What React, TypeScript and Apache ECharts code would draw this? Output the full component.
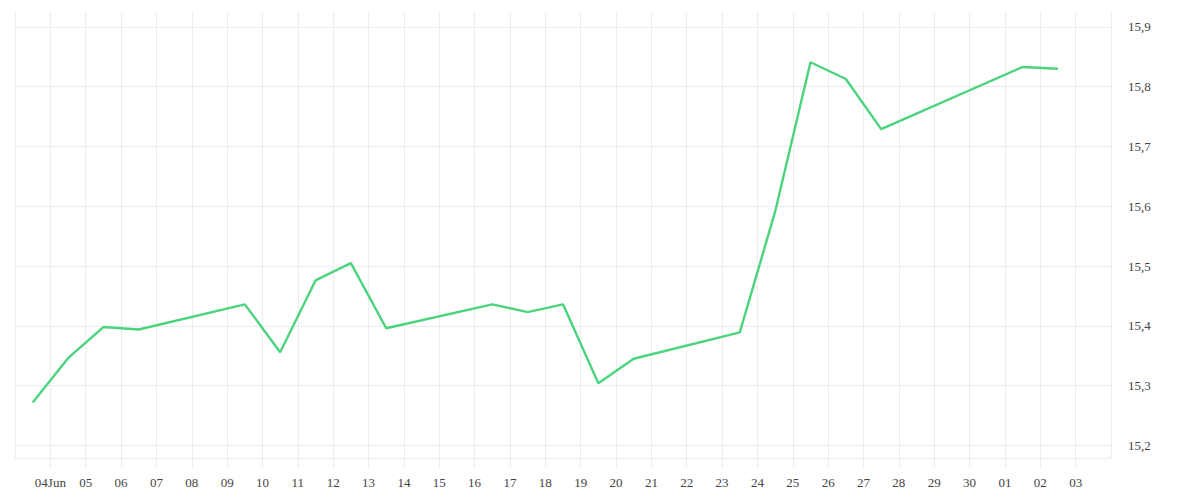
import React, { useEffect, useRef } from "react";
import * as echarts from "echarts";

// Trading dates (local calendar days)
const dates = [
  "2024-06-03", "2024-06-04", "2024-06-05", "2024-06-06",
  "2024-06-09", "2024-06-10", "2024-06-11", "2024-06-12", "2024-06-13",
  "2024-06-16", "2024-06-17", "2024-06-18", "2024-06-19", "2024-06-20",
  "2024-06-23", "2024-06-24", "2024-06-25", "2024-06-26", "2024-06-27",
  "2024-07-01", "2024-07-02",
];

const values = [
  15.272, 15.346, 15.398, 15.394,
  15.436, 15.356, 15.476, 15.505, 15.396,
  15.436, 15.423, 15.436, 15.304, 15.345,
  15.389, 15.591, 15.841, 15.813, 15.729,
  15.833, 15.83,
];

const axisStart = "2024-06-03";
const axisDays = 31;

// x tick labels for day offsets 1..30
const xTickLabels = [
  "04Jun", "05", "06", "07", "08", "09", "10", "11", "12", "13",
  "14", "15", "16", "17", "18", "19", "20", "21", "22", "23",
  "24", "25", "26", "27", "28", "29", "30", "01", "02", "03",
];

const yTicks = [15.2, 15.3, 15.4, 15.5, 15.6, 15.7, 15.8, 15.9];

const DAY = 86400000;
function dayOffset(s: string): number {
  const [y, m, d] = s.split("-").map(Number);
  const [y0, m0, d0] = axisStart.split("-").map(Number);
  return Math.round((Date.UTC(y, m - 1, d) - Date.UTC(y0, m0 - 1, d0)) / DAY);
}

export default function App() {
  const ref = useRef<HTMLDivElement>(null);
  useEffect(() => {
    if (!ref.current) return;
    const chart = echarts.init(ref.current, undefined, { renderer: "svg" });
    const gridColor = "#ececec";
    const font = "'Liberation Serif', serif";
    const seriesData = dates.map((d, i) => [dayOffset(d) + 0.5, values[i]]);
    chart.setOption({
      animation: false,
      backgroundColor: "#ffffff",
      grid: { left: 15, right: 89, top: 12, bottom: 42, containLabel: false },
      xAxis: {
        type: "value",
        min: 0,
        max: axisDays,
        interval: 1,
        axisLine: { show: true, lineStyle: { color: gridColor, width: 1 } },
        axisTick: { show: true, length: 10, lineStyle: { color: gridColor, width: 1 } },
        splitLine: { show: true, lineStyle: { color: gridColor, width: 1 } },
        axisLabel: {
          show: true,
          margin: 18,
          showMinLabel: false,
          showMaxLabel: false,
          color: "#444",
          fontFamily: font,
          fontSize: 13,
          formatter: (v: number) => {
            const idx = Math.round(v) - 1;
            return idx >= 0 && idx < xTickLabels.length ? xTickLabels[idx] : "";
          },
        },
      },
      yAxis: {
        type: "value",
        position: "right",
        min: 15.179,
        max: 15.925,
        scale: true,
        axisLine: { show: true, lineStyle: { color: gridColor, width: 1 } },
        axisTick: { show: false, customValues: yTicks },
        splitLine: { show: true, lineStyle: { color: gridColor, width: 1 } },
        axisLabel: {
          customValues: yTicks,
          margin: 17,
          padding: [4, 0, 0, 0],
          color: "#444",
          fontFamily: font,
          fontSize: 13,
          formatter: (v: number) => v.toFixed(1).replace(".", ","),
        },
      },
      series: [
        {
          type: "line",
          data: seriesData,
          showSymbol: false,
          symbol: "none",
          lineStyle: { color: "#4cd37e", width: 2.4 },
          itemStyle: { color: "#4cd37e" },
          z: 5,
        },
      ],
    });
    return () => chart.dispose();
  }, []);
  return (
    <div
      ref={ref}
      style={{ position: "fixed", left: 0, top: 0, width: 1200, height: 500 }}
    />
  );
}
